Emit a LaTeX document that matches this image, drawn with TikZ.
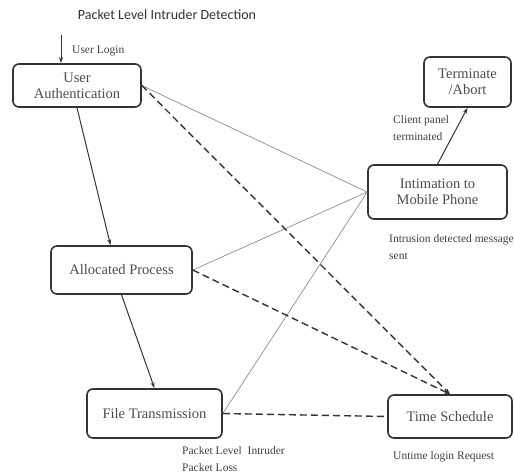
\documentclass[tikz,border=0pt]{standalone}
\usepackage{fontspec}
\newfontfamily\boxfont{Liberation Serif}
\newfontfamily\titlefont{Carlito}
\usetikzlibrary{arrows.meta}

\begin{document}
\begin{tikzpicture}[x=1pt, y=-1pt,
    stage/.style={draw=black!80, line width=1.6pt, rounded corners=6pt, fill=white,
      text=black!70, align=center, font=\boxfont\fontsize{14.5}{16}\selectfont},
    note/.style={anchor=west, align=left, text=black!75, inner sep=0pt,
      font=\boxfont\fontsize{11.5}{16.5}\selectfont},
    flow/.style={draw=black!80, line width=1pt, -{Stealth[length=6pt, width=4pt]}},
    link/.style={draw=black!45, line width=0.7pt},
    sched/.style={draw=black!80, line width=1.4pt, dash pattern=on 7pt off 4pt}]
    \useasboundingbox (0,0) rectangle (514,475);

    % タイトル
    \node[text=black!80, font=\titlefont\fontsize{14}{16}\selectfont] (title) at (167,15) {Packet Level Intruder Detection};

    % ノード
    \node[stage, minimum width=128pt, minimum height=43pt] (UA) at (77,85.5) {User\\Authentication};
    \node[stage, minimum width=87pt, minimum height=50pt] (TA) at (467.5,82) {Terminate\\/Abort};
    \node[stage, minimum width=139pt, minimum height=54pt] (IM) at (437.5,192) {Intimation to\\Mobile Phone};
    \node[stage, minimum width=141pt, minimum height=48pt] (AP) at (121.5,270) {Allocated Process};
    \node[stage, minimum width=135pt, minimum height=49pt] (FT) at (154.5,413.5) {File Transmission};
    \node[stage, minimum width=124pt, minimum height=43pt] (TS) at (450,416.5) {Time Schedule};

    % ラベル
    \node[note] (login) at (72,51) {User Login};
    \node[note] (client) at (393,128) {Client panel\\terminated};
    \node[note] (sent) at (389,247) {Intrusion detected message\\sent};
    \node[note] (loss) at (182,459) {Packet Level~~Intruder\\Packet Loss};
    \node[note] (req) at (393,457) {Untime login Request};

    % エッジ
    \coordinate (start) at (61,35);
    \draw[flow] (start) -- (start |- UA.north);
    \draw[flow] (UA.south) -- ([xshift=-11pt]AP.north);
    \draw[flow] (AP.south) -- (FT.north);
    \draw[flow] (IM.north) -- (TA.south);

    \draw[link] (UA.east) -- (IM.west);
    \draw[link] (AP.east) -- (IM.west);
    \draw[link] (FT.east) -- (IM.west);

    \draw[sched, -{Stealth[length=6pt, width=4pt]}] (UA.east) -- (TS.north);
    \draw[sched, -{Stealth[length=6pt, width=4pt]}] (AP.east) -- (TS.north);
    \draw[sched] (FT.east) -- (TS.west);
  \end{tikzpicture}
\end{document}
